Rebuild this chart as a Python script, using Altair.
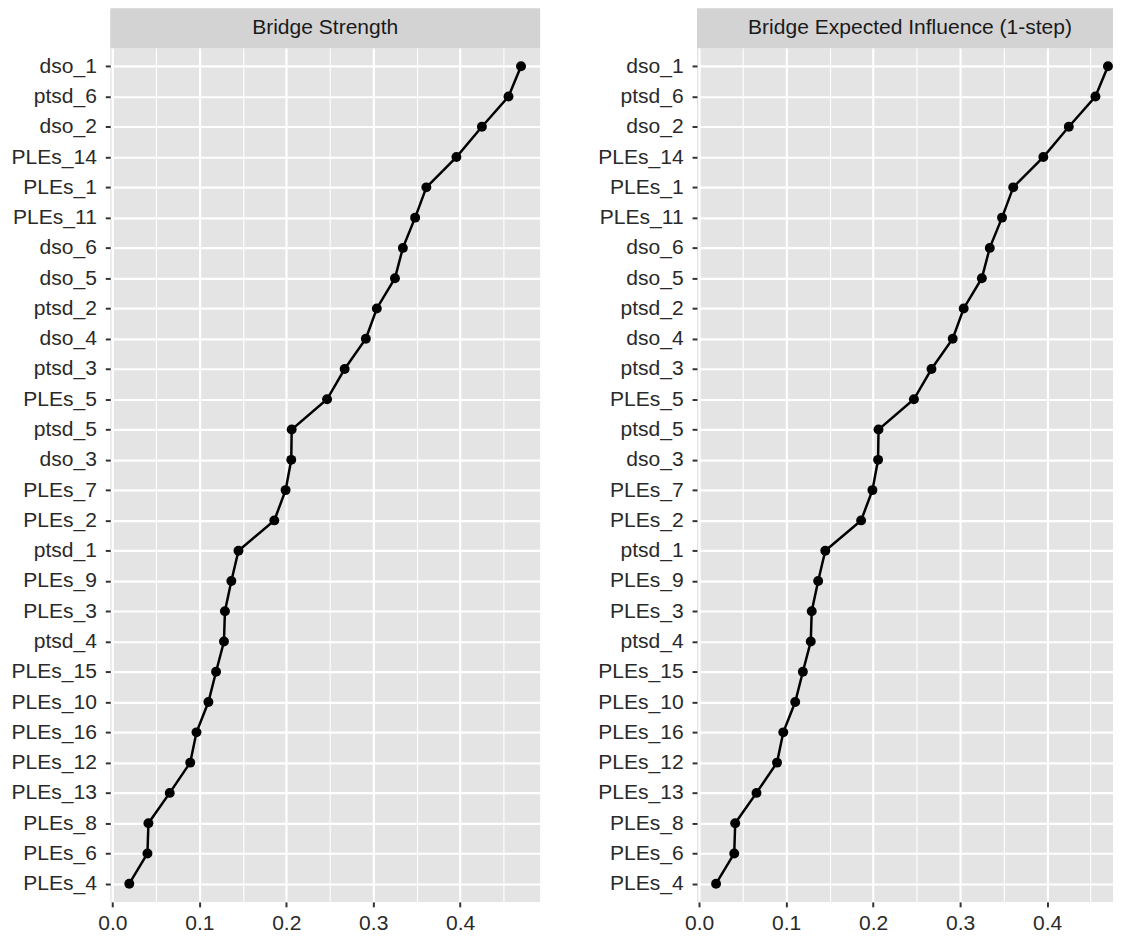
import altair as alt
import pandas as pd

nodes = ["dso_1", "ptsd_6", "dso_2", "PLEs_14", "PLEs_1", "PLEs_11", "dso_6",
         "dso_5", "ptsd_2", "dso_4", "ptsd_3", "PLEs_5", "ptsd_5", "dso_3",
         "PLEs_7", "PLEs_2", "ptsd_1", "PLEs_9", "PLEs_3", "ptsd_4", "PLEs_15",
         "PLEs_10", "PLEs_16", "PLEs_12", "PLEs_13", "PLEs_8", "PLEs_6", "PLEs_4"]

bridge_strength = [0.4700, 0.4556, 0.4250, 0.3957, 0.3611, 0.3482, 0.3341,
                   0.3250, 0.3041, 0.2915, 0.2671, 0.2469, 0.2062, 0.2057,
                   0.1992, 0.1862, 0.1450, 0.1368, 0.1294, 0.1283, 0.1192,
                   0.1104, 0.0967, 0.0895, 0.0659, 0.0414, 0.0403, 0.0194]

bridge_ei = [0.4700, 0.4556, 0.4250, 0.3957, 0.3611, 0.3482, 0.3341,
             0.3250, 0.3041, 0.2915, 0.2671, 0.2469, 0.2062, 0.2057,
             0.1992, 0.1862, 0.1450, 0.1368, 0.1294, 0.1283, 0.1192,
             0.1104, 0.0967, 0.0895, 0.0659, 0.0414, 0.0403, 0.0194]

panel_titles = ["Bridge Strength", "Bridge Expected Influence (1-step)"]
x_ticks = [0.0, 0.05, 0.1, 0.15, 0.2, 0.25, 0.3, 0.35, 0.4, 0.45]

FONT = "Liberation Sans"
FS = 21.2
MAJOR = "round(datum.value * 20) % 2 == 0"


def panel(values, title, width, domain, title_x):
    df = pd.DataFrame({"node": nodes, "value": values, "rank": list(range(len(nodes)))})
    strip_df = pd.DataFrame({"label": [title]})

    x = alt.X(
        "value:Q",
        title=None,
        scale=alt.Scale(domain=domain, nice=False, zero=False),
        axis=alt.Axis(
            values=x_ticks,
            labelExpr=MAJOR + " ? format(datum.value, '.1f') : ''",
            labelOverlap=False,
            labelFlush=False,
            domain=False,
            grid=True,
            gridColor="white",
            gridWidth={"condition": {"test": MAJOR, "value": 2.2}, "value": 1.1},
            ticks=True,
            tickColor="#333333",
            tickWidth=2,
            tickSize=5,
            tickOpacity={"condition": {"test": MAJOR, "value": 1}, "value": 0},
            labelFont=FONT,
            labelFontSize=FS,
            labelColor="#2a2a2a",
            labelPadding=6,
        ),
    )
    y = alt.Y(
        "node:N",
        title=None,
        sort=nodes,
        scale=alt.Scale(type="point", padding=0.6),
        axis=alt.Axis(
            domain=False,
            grid=True,
            gridColor="white",
            gridWidth=2.2,
            ticks=True,
            tickColor="#333333",
            tickWidth=2,
            tickSize=5,
            labelFont=FONT,
            labelFontSize=FS,
            labelColor="#2a2a2a",
            labelPadding=9,
        ),
    )

    base = alt.Chart(df)
    line = base.mark_line(color="black", strokeWidth=2.5).encode(
        x=x, y=y, order=alt.Order("rank:Q")
    )
    pts = base.mark_circle(size=100, color="black", opacity=1).encode(x=x, y=y)

    strip = alt.Chart(strip_df).mark_rect(color="#d3d3d3").encode(
        x=alt.value(0), x2=alt.value(width), y=alt.value(-40), y2=alt.value(0)
    )
    strip_text = alt.Chart(strip_df).mark_text(
        font=FONT, fontSize=FS, color="#1a1a1a", align="center", baseline="middle"
    ).encode(x=alt.value(title_x), y=alt.value(-20), text="label:N")

    return alt.layer(strip, strip_text, line, pts).properties(width=width, height=860)


left = panel(bridge_strength, panel_titles[0], 433, [-0.0025, 0.492], 216.5)
right = panel(bridge_ei, panel_titles[1], 419, [-0.0025, 0.4758], 214.5)

chart = (
    alt.hconcat(left, right, spacing=58)
    .properties(padding={"left": 3, "top": -3, "right": 0, "bottom": 0})
    .configure_view(fill="#e4e4e4", stroke=None)
)

chart.save("out.html", embed_options={"renderer": "svg", "actions": False})
